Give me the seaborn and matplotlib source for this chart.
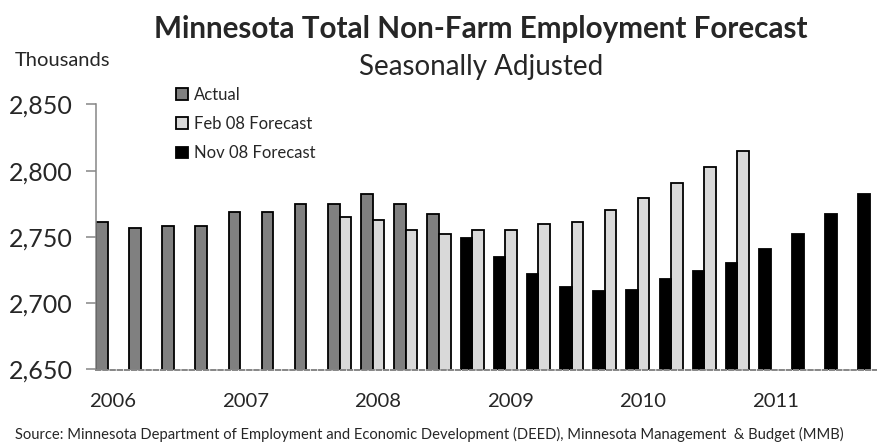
import numpy as np
import pandas as pd
import matplotlib
matplotlib.use("Agg")
import matplotlib.pyplot as plt
from matplotlib.patches import Patch
import seaborn as sns

# Quarterly employment, thousands (seasonally adjusted), 2006Q1 - 2011Q4
quarters = [f"{y}Q{q}" for y in range(2006, 2012) for q in range(1, 5)]

actual_start = 0      # 2006Q1
actual = [2761, 2757, 2758, 2758, 2769, 2769, 2775, 2775, 2782, 2775, 2767]

feb08_start = 7       # 2007Q4
feb08 = [2765, 2763, 2755, 2752, 2755, 2755, 2760, 2761, 2770, 2779, 2791, 2803, 2815]

nov08_start = 11      # 2008Q4
nov08 = [2749, 2735, 2722, 2712, 2709, 2710, 2718, 2724, 2730, 2741, 2752, 2767, 2782]

year_labels = ["2006", "2007", "2008", "2009", "2010", "2011"]
y_ticks = [2650, 2700, 2750, 2800, 2850]

series_names = ["Actual", "Feb 08 Forecast", "Nov 08 Forecast"]
series_colors = {"Actual": "#808080", "Feb 08 Forecast": "#d9d9d9", "Nov 08 Forecast": "#000000"}

# Actual and the Nov 08 forecast share the left slot of each quarter,
# the Feb 08 forecast sits in the right slot.
slot_w = 0.347
rows = []
for name, start, vals, slot in [("Actual", actual_start, actual, 0),
                                ("Feb 08 Forecast", feb08_start, feb08, 1),
                                ("Nov 08 Forecast", nov08_start, nov08, 0)]:
    for k, v in enumerate(vals):
        i = start + k
        rows.append({"quarter": quarters[i],
                     "pos": i + slot_w * slot + slot_w / 2,
                     "value": v, "series": name})
df = pd.DataFrame(rows)

sns.set_theme(style="white")
plt.rcParams["font.family"] = ["Lato", "DejaVu Sans"]

W, H = 878, 443
fig = plt.figure(figsize=(W / 100, H / 100), dpi=100)
ax = fig.add_axes([96 / W, 1 - 369.5 / H, 1 - 96 / W, (369.5 - 104.3) / H])

sns.barplot(data=df, x="pos", y="value", hue="series", hue_order=series_names,
            palette=series_colors, dodge=False, native_scale=True, width=1.0,
            errorbar=None, edgecolor="black", linewidth=1.3, legend=False, ax=ax)

ax.set_ylim(2650, 2850)
ax.set_xlim(0, (W - 96) / 33.15)
ax.set_yticks(y_ticks)
ax.set_yticklabels([f"{t:,}" for t in y_ticks], fontsize=18)
ax.set_xticks([4 * k + 0.5 for k in range(len(year_labels))])
ax.set_xticklabels(year_labels, fontsize=14.6)
ax.set_xlabel("")
ax.set_ylabel("")

ax.tick_params(axis="y", direction="out", length=7, width=1.1, color="#868686",
               pad=10, left=True)
ax.tick_params(axis="x", length=0, pad=17)
ax.grid(False)

for side in ["top", "right"]:
    ax.spines[side].set_visible(False)
ax.spines["left"].set_color("#868686")
ax.spines["left"].set_linewidth(1.1)
ax.spines["bottom"].set_color("#868686")
ax.spines["bottom"].set_linewidth(1.4)
ax.spines["bottom"].set_linestyle((0, (2.3, 1.4)))

handles = [Patch(facecolor=series_colors[n], edgecolor="black", linewidth=1.3, label=n)
           for n in series_names]
fig.legend(handles=handles, loc="upper left", bbox_to_anchor=(176 / W, 1 - 86.5 / H),
           frameon=False, fontsize=12, handlelength=0.7, handleheight=0.7,
           handletextpad=0.4, labelspacing=0.8, borderpad=0, borderaxespad=0)

fig.text(481 / W, 1 - 29 / H, "Minnesota Total Non-Farm Employment Forecast",
         ha="center", va="center", fontsize=21.3, fontweight="bold")
fig.text(481 / W, 1 - 67 / H, "Seasonally Adjusted", ha="center", va="center",
         fontsize=20)
fig.text(15 / W, 1 - 61 / H, "Thousands", ha="left", va="center", fontsize=14.5)
fig.text(15 / W, 1 - 434 / H,
         "Source: Minnesota Department of Employment and Economic Development (DEED), "
         "Minnesota Management  & Budget (MMB)",
         ha="left", va="center", fontsize=10.6)

fig.savefig("out.png", dpi=100)
